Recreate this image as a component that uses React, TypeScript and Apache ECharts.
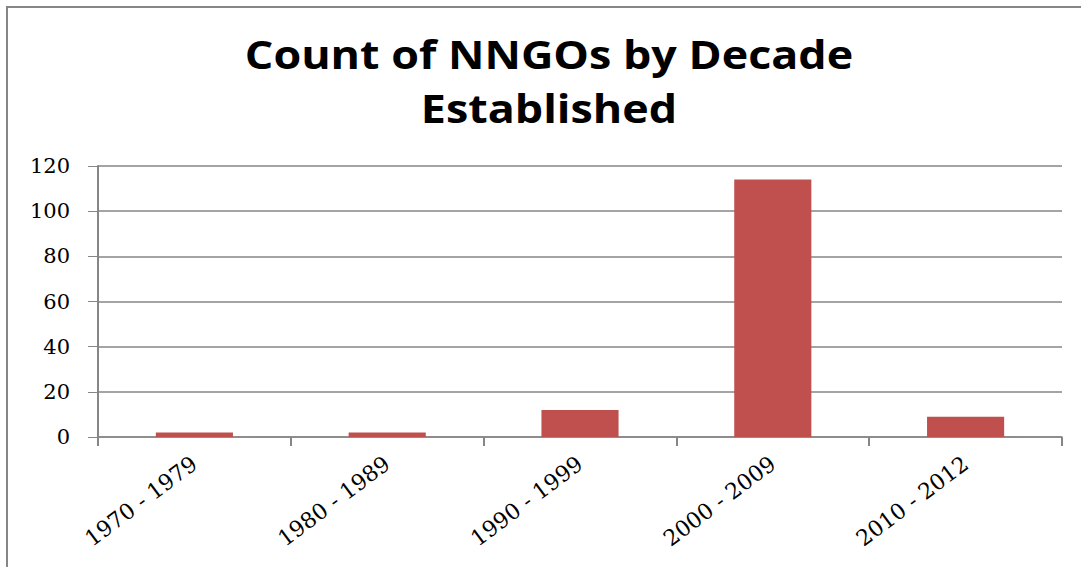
import React, { useEffect, useRef } from "react";
import * as echarts from "echarts";

const categories = ["1970 - 1979", "1980 - 1989", "1990 - 1999", "2000 - 2009", "2010 - 2012"];
const counts = [2, 2, 12, 114, 9];
const titleLines = ["Count of NNGOs by Decade", "Established"];

export default function App() {
  const ref = useRef<HTMLDivElement>(null);
  useEffect(() => {
    const chart = echarts.init(ref.current!, null, { renderer: "svg" });
    chart.setOption({
      animation: false,
      backgroundColor: "#ffffff",
      graphic: [
        {
          type: "rect",
          shape: { x: 7, y: 7, width: 1100, height: 600 },
          style: { fill: "none", stroke: "#868686", lineWidth: 2 },
          silent: true,
          z: 10,
        },
        ...titleLines.map((t, i) => ({
          type: "text",
          x: 549,
          y: 54 + i * 54,
          scaleX: 1.15,
          silent: true,
          style: {
            text: t,
            fill: "#000000",
            font: 'bold 39px "Open Sans"',
            textAlign: "center",
            textVerticalAlign: "middle",
          },
        })),
      ],
      grid: { left: 98, right: 19, top: 166, bottom: 130, containLabel: false },
      xAxis: {
        type: "category",
        data: categories,
        boundaryGap: true,
        axisLine: { show: true, lineStyle: { color: "#868686", width: 1.5 } },
        axisTick: { show: true, length: 9, alignWithLabel: false, lineStyle: { color: "#868686", width: 2 } },
        axisLabel: {
          interval: 0,
          rotate: 37,
          margin: 24,
          fontFamily: "DejaVu Serif",
          fontSize: 22,
          color: "#000000",
        },
      },
      yAxis: {
        type: "value",
        min: 0,
        max: 120,
        interval: 20,
        axisLine: { show: true, lineStyle: { color: "#868686", width: 2 } },
        axisTick: { show: true, length: 10, lineStyle: { color: "#868686", width: 1 } },
        splitLine: { show: true, lineStyle: { color: "#868686", width: 1.5 } },
        axisLabel: {
          margin: 28,
          fontFamily: "DejaVu Serif",
          fontSize: 21,
          color: "#000000",
        },
      },
      series: [
        {
          type: "bar",
          data: counts,
          barWidth: "40%",
          itemStyle: { color: "#C0504D" },
        },
      ],
    });
    return () => chart.dispose();
  }, []);
  return (
    <div
      ref={ref}
      style={{ position: "fixed", left: 0, top: 0, width: 1081, height: 567 }}
    />
  );
}
